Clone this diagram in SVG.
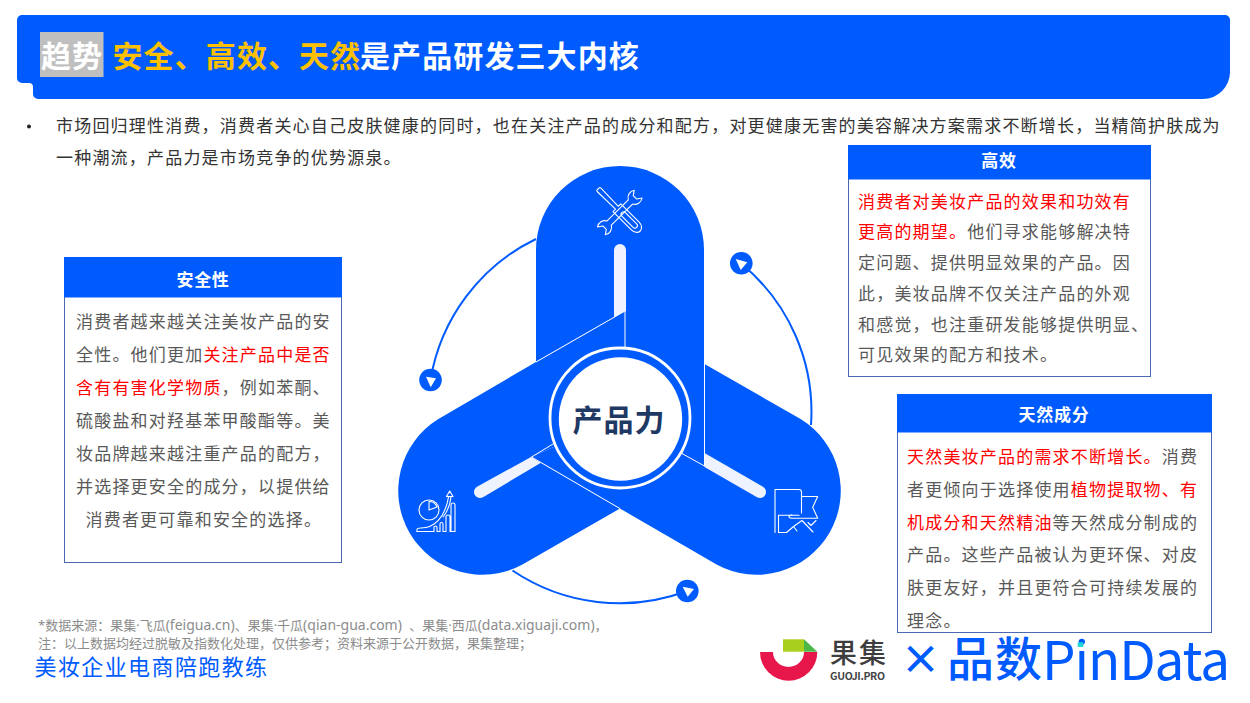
<svg xmlns="http://www.w3.org/2000/svg" width="1250" height="703" viewBox="0 0 1250 703">
<style>
text{font-family:"Noto Sans CJK SC","Noto Sans",sans-serif}
.b{fill:#005bff}
.body{font-size:17px;letter-spacing:1.200px;fill:#595959}
.r{fill:#ff0000}
.hd{font-size:17px;font-weight:700;fill:#fff;text-anchor:middle;letter-spacing:.7px}
.box{fill:#fff;stroke:#4a69ae;stroke-width:1}
.seam{stroke:#fff;stroke-width:1;fill:none}
.ic{stroke:#fff;stroke-width:1.100;fill:none;stroke-linejoin:round;stroke-linecap:round}
.arc{stroke:#005bff;stroke-width:2;fill:none}
.tt{font-size:30px;font-weight:700;letter-spacing:1.100px}
.fn{font-size:13px;fill:#8c8c8c;font-family:"Noto Sans","Noto Sans CJK SC",sans-serif}
.la{font-size:14px}
</style>
<g id="banner">
<path class="b" d="M22,15H1225a5,5 0 0 1 5,5V72a27,27 0 0 1 -27,27H38a5,5 0 0 1 -5,-5V87a4,4 0 0 0 -4,-4H22a5,5 0 0 1 -5,-5V20a5,5 0 0 1 5,-5Z"/>
<rect x="40" y="32" width="63.500" height="45" fill="#bfbfbf"/>
<text class="tt" x="41" y="66.500" fill="#fff">趋势</text>
<text class="tt" x="112.500" y="66.500" fill="#ffc000">安全、高效、天然</text>
<text class="tt" x="360" y="66.500" fill="#fff">是产品研发三大内核</text>
</g>
<g id="intro">
<circle cx="29" cy="126.500" r="2" fill="#222"/>
<text class="body" x="56" y="132" style="fill:#333">市场回归理性消费，消费者关心自己皮肤健康的同时，也在关注产品的成分和配方，对更健康无害的美容解决方案需求不断增长，当精简护肤成为</text>
<text class="body" x="56" y="164" style="fill:#333">一种潮流，产品力是市场竞争的优势源泉。</text>
</g>
<g id="connectors">
<path class="arc" d="M536,239A191.500,191.500 0 0 0 430.500,380"/>
<path class="arc" d="M741,263.500A191.500,191.500 0 0 1 811,425"/>
<path class="arc" d="M512.500,570.500A191.500,191.500 0 0 0 687,591"/>
<circle class="b" cx="430.500" cy="380" r="11.300"/><path d="M426,376.700L436,378.300L430.700,387.300Z" fill="#fff"/>
<circle class="b" cx="741.300" cy="263.300" r="11.300"/><path d="M735.700,259L747.300,262.300L740.700,270Z" fill="#fff"/>
<circle class="b" cx="687.300" cy="591" r="11.300"/><path d="M682.700,586.700L694,589L687.700,596.700Z" fill="#fff"/>
</g>
<g id="lobe-top">
<path class="b" d="M536,362V250A84,84 0 0 1 704,250V466L620,418L625,311Z"/>
<path d="M614,250a6,6 0 0 1 12,0V311L614,318Z" fill="#eef3ff"/>
<g class="ic" transform="translate(619.700,210.500) rotate(45)">
<path d="M-30.500,-1.500Q-30.500,-2.500 -29,-2.500L-4,-2V-5.500H22a7,5.500 0 0 1 0,11H-4V2L-29,2.500Q-30.500,2.500 -30.500,1.500Z"/>
<rect x="3" y="-2.500" width="21" height="5" rx="2.500"/>
</g>
<g class="ic" transform="translate(619.800,212.500) rotate(-45)">
<path d="M-15,-3H15A7.500,7.500 0 0 1 26,-5.500L21.500,-2.500V2.500L26,5.500A7.500,7.500 0 0 1 15,3H-15A7.500,7.500 0 0 1 -26,5.500L-21.500,2.500V-2.500L-26,-5.500A7.500,7.500 0 0 1 -15,-3Z"/>
</g>
</g>
<g id="lobe-left">
<path class="b" d="M536,362L625,311V420L620,418L531,457L620,508.600L522,564.700A84,84 0 0 1 438,419.300Z"/>
<path d="M477,486.800L531,457L541,462.800L483,497.200A6,6 0 0 1 477,486.800Z" fill="#eef3ff"/>
<g class="ic">
<circle cx="429" cy="510" r="10"/>
<path d="M429,510V501.500A8.500,8.500 0 0 1 437,507Z"/>
<path d="M417,531.500V529.500Q417,528 421,528C434,528 445,518 448.500,497"/>
<path d="M417,531.500H434V527.500a1.500,1.500 0 0 1 3,0V531.500H440V524a1.500,1.500 0 0 1 3,0V531.500H446V517a2,2 0 0 1 4,0V531.500H451V505a2,2 0 0 1 4,0V531.500H451"/>
<path d="M449.700,491L446.500,496.500H453Z"/>
<path d="M451,497C450,506 447,512 443,517"/>
</g>
</g>
<g id="lobe-right">
<path class="b" d="M704.500,364L801,419.300A84,84 0 0 1 717,564.700L531,457L620,418L704.500,466Z"/>
<path d="M704.500,453L763,486.800A6,6 0 0 1 757,497.200L704.500,467Z" fill="#eef3ff"/>
<g class="ic">
<path d="M775,532.500V489.500H799Q801.500,489.500 801.500,492V513"/>
<path d="M778.500,532.500V515.300H799"/>
<path d="M801.500,496.500H817.700L812.700,507.300L817.700,518.300H792.500Q789,518.300 789,516.500Q789,515 792,515"/>
<path d="M778.500,532.500H786.500L793.500,526.500L797,531M793.500,526.500L802,520.500L813,532M808,522.500L811,525.500L816,520.500"/>
</g>
</g>
<g id="seams">
<path class="seam" d="M536,362L625,311V347"/>
<path class="seam" d="M704.500,364V466L681,453"/>
<path class="seam" d="M620,508.600L531.500,457L553,444"/>
</g>
<g id="core">
<circle cx="620" cy="418" r="70" fill="#005bff" stroke="#fff" stroke-width="2.800"/>
<circle cx="620.500" cy="419" r="61.700" fill="#fff"/>
<text x="619" y="431" font-size="30" font-weight="700" fill="#1f3864" text-anchor="middle" letter-spacing="1">产品力</text>
</g>
<g id="box-safety">
<rect class="box" x="64.500" y="257.500" width="277" height="305"/>
<rect class="b" x="64" y="257" width="278" height="40.500"/>
<text class="hd" x="203" y="286">安全性</text>
<text class="body" x="76" y="328">消费者越来越关注美妆产品的安</text>
<text class="body" x="76" y="361">全性。他们更加<tspan class="r">关注产品中是否</tspan></text>
<text class="body" x="76" y="394"><tspan class="r">含有有害化学物质</tspan>，例如苯酮、</text>
<text class="body" x="76" y="427">硫酸盐和对羟基苯甲酸酯等。美</text>
<text class="body" x="76" y="460">妆品牌越来越注重产品的配方，</text>
<text class="body" x="76" y="493">并选择更安全的成分，以提供给</text>
<text class="body" x="85.500" y="526">消费者更可靠和安全的选择。</text>
</g>
<g id="box-efficient">
<rect class="box" x="848.500" y="145.500" width="302" height="231"/>
<rect class="b" x="848" y="145" width="303" height="34.500"/>
<text class="hd" x="999" y="167">高效</text>
<text class="body" x="858" y="208"><tspan class="r">消费者对美妆产品的效果和功效有</tspan></text>
<text class="body" x="858" y="238"><tspan class="r">更高的期望。</tspan>他们寻求能够解决特</text>
<text class="body" x="858" y="269">定问题、提供明显效果的产品。因</text>
<text class="body" x="858" y="300">此，美妆品牌不仅关注产品的外观</text>
<text class="body" x="858" y="331">和感觉，也注重研发能够提供明显、</text>
<text class="body" x="858" y="361">可见效果的配方和技术。</text>
</g>
<g id="box-natural">
<rect class="box" x="897.500" y="394.500" width="314" height="238"/>
<rect class="b" x="897" y="394" width="315" height="38.500"/>
<text class="hd" x="1054" y="421">天然成分</text>
<text class="body" x="907" y="463"><tspan class="r">天然美妆产品的需求不断增长。</tspan>消费</text>
<text class="body" x="907" y="496">者更倾向于选择使用<tspan class="r">植物提取物、有</tspan></text>
<text class="body" x="907" y="529"><tspan class="r">机成分和天然精油</tspan>等天然成分制成的</text>
<text class="body" x="907" y="561">产品。这些产品被认为更环保、对皮</text>
<text class="body" x="907" y="594">肤更友好，并且更符合可持续发展的</text>
<text class="body" x="907" y="627">理念。</text>
</g>
<g id="footer">
<text class="fn" x="38" y="630" xml:space="preserve">*数据来源：果集·飞瓜<tspan class="la">(feigua.cn)</tspan>、果集·千瓜<tspan class="la">(qian-gua.com)  </tspan>、果集·西瓜<tspan class="la">(data.xiguaji.com)</tspan>，</text>
<text class="fn" x="38" y="648">注：以上数据均经过脱敏及指数化处理，仅供参考；资料来源于公开数据，果集整理；</text>
<text x="34.500" y="675" font-size="22" letter-spacing="1.400" fill="#005bff">美妆企业电商陪跑教练</text>
</g>
<g id="logos">
<path d="M760,652H773A15.500,15 0 0 0 804,652H817.300A28.650,28.700 0 0 1 760,652Z" fill="#e8174b"/>
<rect x="783" y="639.300" width="21" height="12.400" fill="#a8cf1c"/>
<path d="M804,639.300L817.300,651.700H804Z" fill="#4cb848"/>
<text x="830" y="663" font-size="27" font-weight="500" fill="#3d3d3d" textLength="56">果集</text>
<text x="830" y="679.500" font-size="10.500" font-weight="700" fill="#444" font-family="Liberation Sans" textLength="55">GUOJI.PRO</text>
<text x="920.500" y="674" font-size="40" font-weight="700" fill="#005bff" text-anchor="middle" font-family="Liberation Sans">×</text>
<text x="947" y="676" font-size="47" font-weight="500" fill="#005bff" textLength="95">品数</text>
<text x="1042" y="680" font-size="53" fill="#005bff" font-family="Noto Sans" textLength="188">PinData</text>
<rect x="1077.700" y="642.300" width="5.600" height="4.600" fill="#1fd6d6"/>
</g>
</svg>
